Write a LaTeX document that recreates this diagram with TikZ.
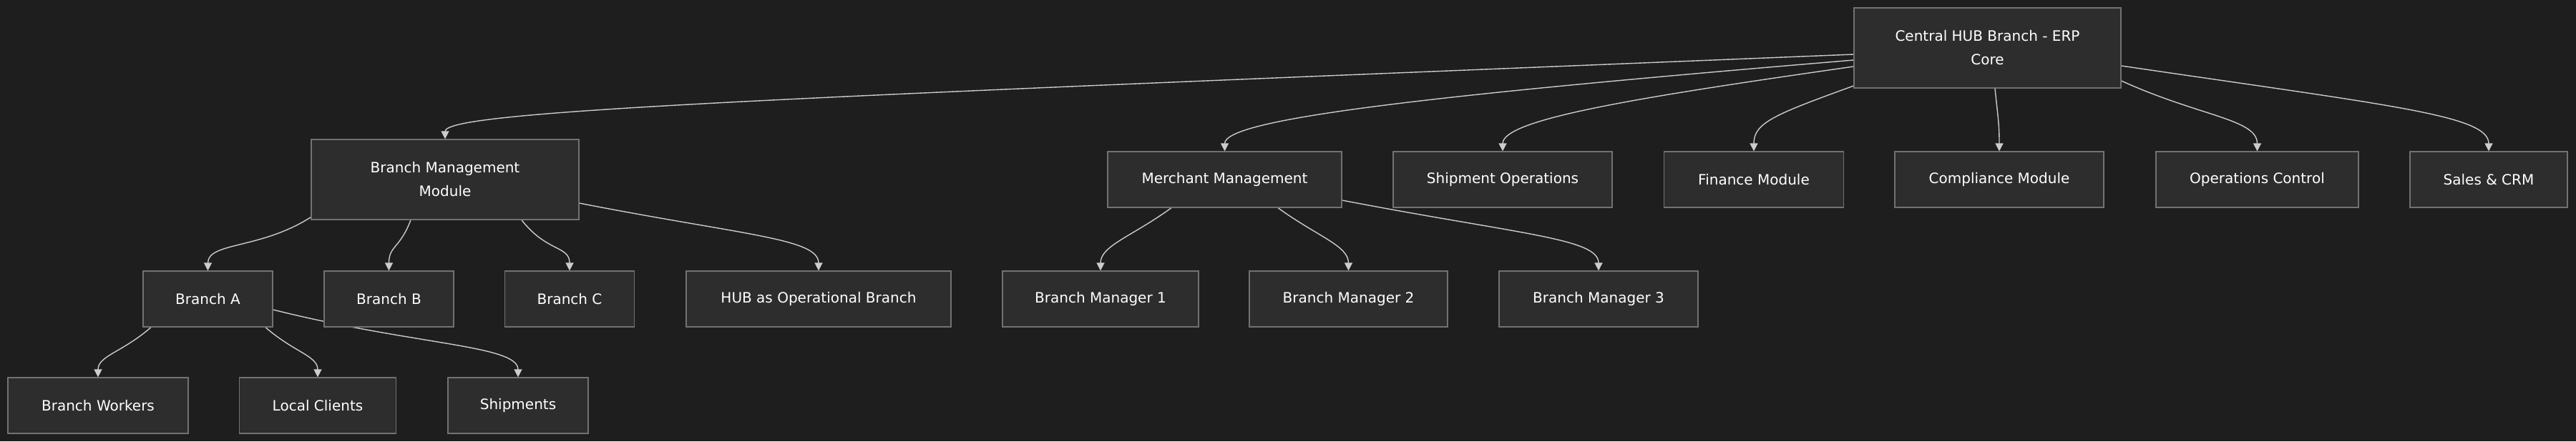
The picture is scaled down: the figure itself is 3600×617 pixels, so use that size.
\documentclass[tikz,border=0pt]{standalone}
\usepackage{fontspec}
\setmainfont{DejaVu Sans}
\usetikzlibrary{arrows.meta}
\pgfdeclarelayer{bg}
\pgfdeclarelayer{wires}
\pgfsetlayers{bg,wires,main}
\definecolor{canvas}{HTML}{1E1E1E}
\definecolor{boxfill}{HTML}{2D2D2D}
\definecolor{boxline}{HTML}{727272}
\definecolor{wire}{HTML}{CCCCCC}
\begin{document}
\begin{tikzpicture}[x=0.5pt,y=-0.5pt,
  mod/.style={rectangle,draw=boxline,fill=boxfill,line width=0.6pt,text=white,inner sep=0pt,
    minimum height=39pt,font=\fontsize{10}{16.5}\selectfont,align=center},
  tallmod/.style={mod,minimum height=56pt},
  link/.style={draw=wire,line width=0.7pt,-{Triangle[length=5.5pt,width=5.5pt]}}]
\useasboundingbox (0,0) rectangle (3600,617);
\begin{pgfonlayer}{bg}
\fill[canvas] (0,0) rectangle (3600,617);
\end{pgfonlayer}
% top level
\node[tallmod,minimum width=186.5pt] (hub) at (2777.5,67) {Central HUB Branch - ERP\\Core};
% modules
\node[tallmod,minimum width=187pt] (bmm) at (622,251) {Branch Management\\Module};
\node[mod,minimum width=163.5pt] (merch) at (1711.5,251) {Merchant Management};
\node[mod,minimum width=153pt] (shipops) at (2100,251) {Shipment Operations};
\node[mod,minimum width=125.5pt] (fin) at (2451,251) {Finance Module};
\node[mod,minimum width=146pt] (comp) at (2794,251) {Compliance Module};
\node[mod,minimum width=141.5pt] (ops) at (3154.5,251) {Operations Control};
\node[mod,minimum width=110pt] (sales) at (3478,251) {Sales \& CRM};
% branches and managers
\node[mod,minimum width=90.5pt] (brA) at (290.5,418) {Branch A};
\node[mod,minimum width=90.5pt] (brB) at (543.5,418) {Branch B};
\node[mod,minimum width=90.5pt] (brC) at (796,418) {Branch C};
\node[mod,minimum width=185pt] (hubop) at (1144,418) {HUB as Operational Branch};
\node[mod,minimum width=137pt] (mgr1) at (1538,418) {Branch Manager 1};
\node[mod,minimum width=138.5pt] (mgr2) at (1884.5,418) {Branch Manager 2};
\node[mod,minimum width=139pt] (mgr3) at (2234,418) {Branch Manager 3};
% under branch A
\node[mod,minimum width=126pt] (workers) at (137,567) {Branch Workers};
\node[mod,minimum width=109.5pt] (local) at (444,567) {Local Clients};
\node[mod,minimum width=98pt] (ship) at (724,567) {Shipments};
\begin{pgfonlayer}{wires}
\draw[link] ([shift={(0,9)}]hub.west) .. controls +(-1500,61) and +(0,-40) .. (bmm.north);
\draw[link] ([shift={(0,17)}]hub.west) .. controls +(-600,50) and +(0,-45) .. (merch.north);
\draw[link] ([shift={(0,26)}]hub.west) .. controls +(-300,43) and +(0,-45) .. (shipops.north);
\draw[link] ([shift={(0,53)}]hub.west) .. controls +(-110,40) and +(0,-40) .. (fin.north);
\draw[link] ([shift={(10.5,0)}]hub.south) .. controls +(4,40) and +(0,-40) .. (comp.north);
\draw[link] ([shift={(0,46)}]hub.east) .. controls +(110,50) and +(0,-45) .. (ops.north);
\draw[link] ([shift={(0,25)}]hub.east) .. controls +(380,56) and +(0,-50) .. (sales.north);
\draw[link] ([shift={(0,-4)}]bmm.south west) .. controls +(-70,45) and +(0,-40) .. (brA.north);
\draw[link] ([shift={(-48,0)}]bmm.south) .. controls +(-15,40) and +(0,-35) .. (brB.north);
\draw[link] ([shift={(107,0)}]bmm.south) .. controls +(35,45) and +(0,-35) .. (brC.north);
\draw[link] ([shift={(0,33)}]bmm.east) .. controls +(230,45) and +(0,-45) .. (hubop.north);
\draw[link] ([shift={(-79.5,0)}]brA.south) .. controls +(-40,35) and +(0,-30) .. (workers.north);
\draw[link] ([shift={(80.5,0)}]brA.south) .. controls +(40,35) and +(0,-30) .. (local.north);
\draw[link] ([shift={(0,15)}]brA.east) .. controls +(200,50) and +(0,-45) .. (ship.north);
\draw[link] ([shift={(-74.5,0)}]merch.south) .. controls +(-55,40) and +(0,-35) .. (mgr1.north);
\draw[link] ([shift={(74.5,0)}]merch.south) .. controls +(55,40) and +(0,-35) .. (mgr2.north);
\draw[link] ([shift={(0,29)}]merch.east) .. controls +(250,48) and +(0,-45) .. (mgr3.north);
\end{pgfonlayer}
\end{tikzpicture}
\end{document}
